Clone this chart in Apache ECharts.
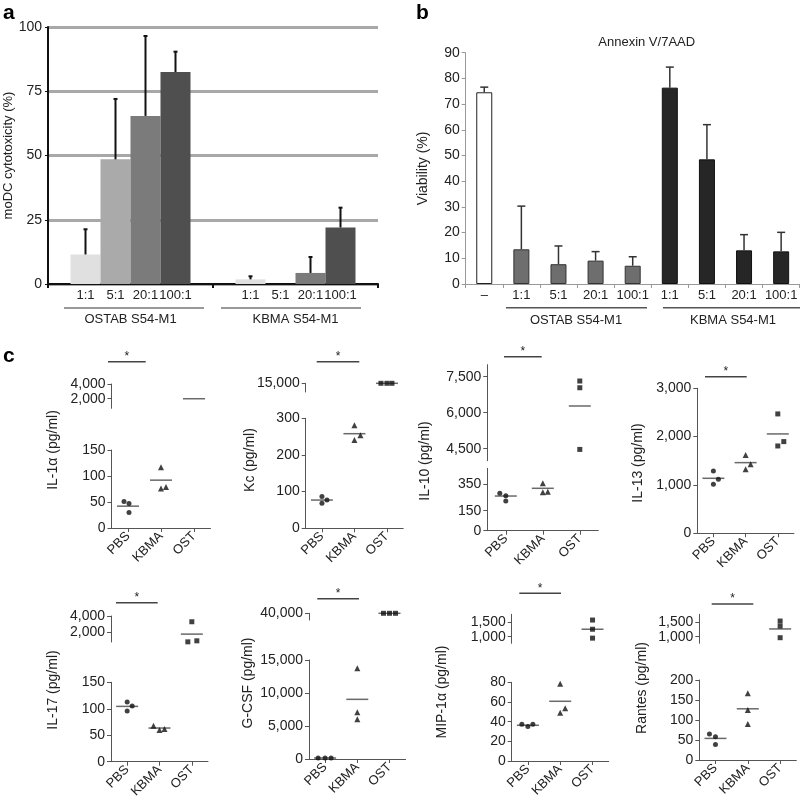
<!DOCTYPE html>
<html>
<head>
<meta charset="utf-8">
<script src="https://cdn.jsdelivr.net/npm/echarts@6/dist/echarts.min.js"></script>
<style>
  html, body { margin: 0; background: #fff; }
  #chart { width: 805px; height: 805px; }
</style>
</head>
<body>
<div id="chart"></div>
<script>
// ---------- panel a: moDC cytotoxicity ----------
const ratios = ['1:1', '5:1', '20:1', '100:1']
const groupsA = ['OSTAB S54-M1', 'KBMA S54-M1']
const cytoOstab = [11.5, 48.5, 65.4, 82.5]
const cytoOstabTop = [21.3, 72, 96.5, 90.4]
const cytoKbma = [1.8, 0, 4.3, 22]
const cytoKbmaTop = [3, null, 10.5, 29.7]

// ---------- panel b: viability ----------
const viaLabels = ['–', '1:1', '5:1', '20:1', '100:1', '1:1', '5:1', '20:1', '100:1']
const viability = [74.6, 13.5, 7.7, 9.1, 7.1, 76.4, 48.5, 13.1, 12.7]
const viabilityTop = [76.6, 30.3, 14.8, 12.6, 10.6, 84.4, 62, 19.2, 20.1]

// ---------- panel c: cytokines ----------
const groupsC = ['PBS', 'KBMA', 'OST']

const il1aPbs = [51, 47, 30]
const il1aKbma = [117, 76, 79]
const il1aOst = []
const il1aMean = [42, 92, 2000]
const il1aTicksLow = [0, 50, 100, 150]
const il1aTicksHigh = [2000, 4000]

const kcPbs = [87, 77, 68]
const kcKbma = [281, 241, 254]
const kcOst = [15000, 15000, 15000]
const kcMean = [77, 258, 15000]
const kcTicksLow = [0, 100, 200, 300]
const kcTicksHigh = [15000]

const il10Pbs = [280, 262, 222]
const il10Kbma = [355, 288, 292]
const il10Ost = [7320, 7040, 4470]
const il10Mean = [260, 318, 6280]
const il10TicksLow = [0, 150, 350]
const il10TicksHigh = [4500, 6000, 7500]

const il13Pbs = [1290, 1118, 1014]
const il13Kbma = [1621, 1325, 1428]
const il13Ost = [2470, 1807, 1897]
const il13Mean = [1138, 1462, 2056]
const il13Ticks = [0, 1000, 2000, 3000]

const il17Pbs = [113, 105, 96]
const il17Kbma = [68, 60, 62]
const il17Ost = [3270, 720, 850]
const il17Mean = [104.5, 63.6, 1700]
const il17TicksLow = [0, 50, 100, 150]
const il17TicksHigh = [2000, 4000]

const gcsfPbs = [150, 150, 150]
const gcsfKbma = [13740, 7070, 6010]
const gcsfOst = [40000, 40000, 40000]
const gcsfMean = [150, 9040, 40000]
const gcsfTicksLow = [0, 5000, 10000, 15000]
const gcsfTicksHigh = [40000]

const mipPbs = [37.3, 35, 37.3]
const mipKbma = [78.6, 49, 53.6]
const mipOst = [1580, 1260, 950]
const mipMean = [36.3, 60.7, 1260]
const mipTicksLow = [0, 20, 40, 60, 80]
const mipTicksHigh = [1000, 1500]

const rantesPbs = [65, 58, 39]
const rantesKbma = [167, 125, 90]
const rantesOst = [1545, 1370, 965]
const rantesMean = [54, 128, 1270]
const rantesTicksLow = [0, 50, 100, 150, 200]
const rantesTicksHigh = [1000, 1500]

// ---------- layout ----------
const FONT = '"Liberation Sans", Arial, Helvetica, sans-serif'
const TXT = '#222'
const AX = '#555'
const fmt = v => v.toLocaleString('en-US')

const cPlots = [
  { name: 'IL-1α (pg/ml)', vals: [il1aPbs, il1aKbma, il1aOst], mean: il1aMean,
    jit: [[-4, 1, 1], [0, 0, 5], []], left: 111.5, width: 99, nameX: 53, nameY: 450, star: [361.7, 108, 145.7],
    lower: { top: 450, bottom: 528, min: 0, max: 150, ticks: il1aTicksLow },
    upper: { top: 384, bottom: 408.3, min: 700, max: 4000, ticks: il1aTicksHigh } },
  { name: 'Kc (pg/ml)', vals: [kcPbs, kcKbma, kcOst], mean: kcMean,
    jit: [[0, 5, 0], [0, 0, 6], [-6, 0, 5]], left: 305.7, width: 97.5, nameX: 250, nameY: 460, star: [361.7, 316.7, 359.3],
    lower: { top: 418.3, bottom: 528.3, min: 0, max: 300, ticks: kcTicksLow },
    upper: { top: 383.3, bottom: 392, min: 14000, max: 15000, ticks: kcTicksHigh } },
  { name: 'IL-10 (pg/ml)', vals: [il10Pbs, il10Kbma, il10Ost], mean: il10Mean,
    jit: [[-6, 0, 0], [0, 0, 5], [0, 0, 0]], left: 487.3, width: 111, nameX: 425, nameY: 461, star: [356.7, 504, 541.7],
    lower: { top: 468.3, bottom: 530.7, min: 0, max: 468, ticks: il10TicksLow },
    upper: { top: 364.7, bottom: 460.7, min: 4000, max: 8000, ticks: il10TicksHigh } },
  { name: 'IL-13 (pg/ml)', vals: [il13Pbs, il13Kbma, il13Ost], mean: il13Mean,
    jit: [[0, 5, 0], [0, 0, 5], [0, 0, 6]], left: 697.3, width: 96.6, nameX: 638.3, nameY: 463, star: [376.7, 705, 746.7],
    lower: { top: 388.3, bottom: 533.3, min: 0, max: 3000, ticks: il13Ticks },
    upper: null },
  { name: 'IL-17 (pg/ml)', vals: [il17Pbs, il17Kbma, il17Ost], mean: il17Mean,
    jit: [[0, 5, 0], [-6, 0, 5], [0, -4, 5]], left: 111, width: 97, nameX: 53.3, nameY: 690, star: [602.7, 116, 157.7],
    lower: { top: 682.3, bottom: 761.7, min: 0, max: 150, ticks: il17TicksLow },
    upper: { top: 616, bottom: 642, min: 700, max: 4000, ticks: il17TicksHigh } },
  { name: 'G-CSF (pg/ml)', vals: [gcsfPbs, gcsfKbma, gcsfOst], mean: gcsfMean,
    jit: [[-7, 0, 6], [0, 0, 0], [-6, 0, 6]], left: 309, width: 96.6, nameX: 248.3, nameY: 683, star: [598.7, 317.3, 359],
    lower: { top: 660, bottom: 759, min: 0, max: 15000, ticks: gcsfTicksLow },
    upper: { top: 613.3, bottom: 620, min: 38000, max: 40000, ticks: gcsfTicksHigh } },
  { name: 'MIP-1α (pg/ml)', vals: [mipPbs, mipKbma, mipOst], mean: mipMean,
    jit: [[-6, 0, 5], [0, 0, 5], [0, 0, 0]], left: 511.7, width: 97, nameX: 441.7, nameY: 692, star: [593.3, 519.3, 561],
    lower: { top: 682.3, bottom: 761, min: 0, max: 80, ticks: mipTicksLow },
    upper: { top: 614.3, bottom: 643.3, min: 770, max: 1780, ticks: mipTicksHigh } },
  { name: 'Rantes (pg/ml)', vals: [rantesPbs, rantesKbma, rantesOst], mean: rantesMean,
    jit: [[-6, 0, 0], [0, 0, 0], [0, 0, 0]], left: 699.3, width: 97, nameX: 641.7, nameY: 688, star: [604, 711.7, 753.3],
    lower: { top: 680, bottom: 760, min: 0, max: 200, ticks: rantesTicksLow },
    upper: { top: 614.3, bottom: 643.3, min: 770, max: 1780, ticks: rantesTicksHigh } },
]

const grids = []
const xAxes = []
const yAxes = []
const series = []
const graphics = []

function errorBar (dx, cap, color, w) {
  return function (params, api) {
    const top = api.value(2)
    if (top == null || isNaN(top)) return null
    const p0 = api.coord([api.value(0), api.value(1)])
    const p1 = api.coord([api.value(0), top])
    const x = p0[0] + dx
    const st = { stroke: color, lineWidth: w }
    return {
      type: 'group',
      children: [
        { type: 'line', shape: { x1: x, y1: p0[1], x2: x, y2: p1[1] }, style: st },
        { type: 'line', shape: { x1: x - cap / 2, y1: p1[1], x2: x + cap / 2, y2: p1[1] }, style: st },
      ],
    }
  }
}

// ---------- panel a ----------
const barWA = 30
const greysA = ['#e0e0e0', '#aaaaaa', '#7b7b7b', '#4f4f4f']
grids.push({ left: 48, top: 27, width: 330, height: 257 })
xAxes.push({
  type: 'category', gridIndex: 0, data: groupsA,
  axisLine: { lineStyle: { color: '#111', width: 2 } },
  axisTick: { show: true, length: 4, lineStyle: { color: '#111', width: 2 } },
  axisLabel: { margin: 29, fontSize: 13, color: TXT, fontFamily: FONT },
})
yAxes.push({
  type: 'value', gridIndex: 0, min: 0, max: 100, interval: 25,
  name: 'moDC cytotoxicity (%)', nameLocation: 'middle', nameGap: 31,
  nameTextStyle: { fontSize: 13, color: TXT, fontFamily: FONT },
  axisLine: { show: true, lineStyle: { color: '#111', width: 2 } },
  axisTick: { show: true, length: 3, lineStyle: { color: '#111' } },
  axisLabel: { fontSize: 14, color: TXT, fontFamily: FONT, margin: 6 },
  splitLine: { show: true, lineStyle: { color: '#a8a8a8', width: 3 } },
})
ratios.forEach((r, i) => {
  series.push({
    type: 'bar', name: r, xAxisIndex: 0, yAxisIndex: 0,
    data: [cytoOstab[i], cytoKbma[i]],
    barWidth: barWA, barGap: '0%',
    itemStyle: { color: greysA[i] },
    label: { show: true, position: 'bottom', distance: 5, formatter: r, fontSize: 13, color: TXT, fontFamily: FONT },
  })
  series.push({
    type: 'custom', xAxisIndex: 0, yAxisIndex: 0, z: 3,
    data: [[0, cytoOstab[i], cytoOstabTop[i]], [1, cytoKbma[i], cytoKbmaTop[i]]],
    encode: { x: 0, y: [1, 2] },
    renderItem: errorBar((i - 1.5) * barWA, 4, '#111', 2),
  })
})
graphics.push(
  { type: 'line', shape: { x1: 64, y1: 308, x2: 204, y2: 308 }, style: { stroke: '#333', lineWidth: 1 } },
  { type: 'line', shape: { x1: 221, y1: 308, x2: 361, y2: 308 }, style: { stroke: '#333', lineWidth: 1 } },
)

// ---------- panel b ----------
grids.push({ left: 465.7, top: 52.7, width: 334, height: 231.3 })
xAxes.push({
  type: 'category', gridIndex: 1, data: viaLabels,
  axisLine: { lineStyle: { color: '#999', width: 1 } },
  axisTick: { show: true, length: 4, lineStyle: { color: '#999' } },
  axisLabel: { margin: 5, fontSize: 13, color: TXT, fontFamily: FONT, interval: 0 },
})
yAxes.push({
  type: 'value', gridIndex: 1, min: 0, max: 90, interval: 10,
  name: 'Viability (%)', nameLocation: 'middle', nameGap: 36,
  nameTextStyle: { fontSize: 14, color: TXT, fontFamily: FONT },
  axisLine: { show: true, lineStyle: { color: '#999' } },
  axisTick: { show: true, length: 4, lineStyle: { color: '#999' } },
  axisLabel: { fontSize: 14, color: TXT, fontFamily: FONT, margin: 6 },
  splitLine: { show: false },
})
const barStyleB = i => i === 0
  ? { color: '#fff', borderColor: '#222', borderWidth: 1 }
  : i < 5 ? { color: '#6e6e6e', borderColor: '#333', borderWidth: 1 }
          : { color: '#262626', borderColor: '#111', borderWidth: 1 }
series.push({
  type: 'bar', xAxisIndex: 1, yAxisIndex: 1, barWidth: 16,
  data: viability.map((v, i) => ({ value: v, itemStyle: barStyleB(i) })),
})
series.push({
  type: 'custom', xAxisIndex: 1, yAxisIndex: 1, z: 3,
  data: viability.map((v, i) => [i, v, viabilityTop[i]]),
  encode: { x: 0, y: [1, 2] },
  renderItem: errorBar(0, 8, '#333', 1.5),
})
graphics.push(
  { type: 'text', x: 646.7, y: 42, style: { text: 'Annexin V/7AAD', font: '13px ' + FONT, fill: TXT, textAlign: 'center', textVerticalAlign: 'middle' } },
  { type: 'line', shape: { x1: 506, y1: 307.7, x2: 647, y2: 307.7 }, style: { stroke: '#555', lineWidth: 1.5 } },
  { type: 'line', shape: { x1: 663, y1: 307.7, x2: 800, y2: 307.7 }, style: { stroke: '#555', lineWidth: 1.5 } },
  { type: 'text', x: 576, y: 320, style: { text: 'OSTAB S54-M1', font: '13px ' + FONT, fill: TXT, textAlign: 'center', textVerticalAlign: 'middle' } },
  { type: 'text', x: 733, y: 320, style: { text: 'KBMA S54-M1', font: '13px ' + FONT, fill: TXT, textAlign: 'center', textVerticalAlign: 'middle' } },
)

// ---------- panel c ----------
const shapes = ['circle', 'triangle', 'rect']
const sizes = [5, 6, 5]
const axisStyleC = {
  axisLine: { show: true, lineStyle: { color: AX, width: 1 } },
  splitLine: { show: false },
}

cPlots.forEach(p => {
  const gl = grids.length
  grids.push({ left: p.left, width: p.width, top: p.lower.top, height: p.lower.bottom - p.lower.top })
  xAxes.push({
    type: 'category', gridIndex: gl, data: groupsC, ...axisStyleC,
    axisTick: { show: true, alignWithLabel: true, length: 4, lineStyle: { color: AX } },
    axisLabel: { rotate: 45, margin: 6, fontSize: 13, color: TXT, fontFamily: FONT, interval: 0 },
  })
  yAxes.push({
    type: 'value', gridIndex: gl, min: p.lower.min, max: p.lower.max, ...axisStyleC,
    axisTick: { show: true, length: 4, lineStyle: { color: AX }, customValues: p.lower.ticks },
    axisLabel: { fontSize: 14, color: TXT, fontFamily: FONT, margin: 6, customValues: p.lower.ticks, formatter: fmt },
  })
  let gu = null
  if (p.upper) {
    gu = grids.length
    grids.push({ left: p.left, width: p.width, top: p.upper.top, height: p.upper.bottom - p.upper.top })
    xAxes.push({ type: 'category', gridIndex: gu, data: groupsC, show: false })
    yAxes.push({
      type: 'value', gridIndex: gu, min: p.upper.min, max: p.upper.max, ...axisStyleC,
      axisTick: { show: true, length: 4, lineStyle: { color: AX }, customValues: p.upper.ticks },
      axisLabel: { fontSize: 14, color: TXT, fontFamily: FONT, margin: 6, customValues: p.upper.ticks, formatter: fmt },
    })
  }
  const pick = v => (gu !== null && v > p.lower.max) ? gu : gl
  const pts = {}
  const means = {}
  pts[gl] = []; means[gl] = []
  if (gu !== null) { pts[gu] = []; means[gu] = [] }
  p.vals.forEach((vals, g) => {
    vals.forEach((v, j) => {
      pts[pick(v)].push({
        value: [g, v], symbol: shapes[g], symbolSize: sizes[g],
        symbolOffset: [p.jit[g][j] || 0, 0],
      })
    })
  })
  p.mean.forEach((m, g) => {
    means[pick(m)].push({ value: [g, m] })
  })
  Object.keys(pts).forEach(k => {
    const idx = +k
    series.push({
      type: 'scatter', xAxisIndex: idx, yAxisIndex: idx, clip: false, z: 2,
      symbol: 'rect', symbolSize: [22, 1.5], itemStyle: { color: '#444' },
      data: means[idx], silent: true,
    })
    series.push({
      type: 'scatter', xAxisIndex: idx, yAxisIndex: idx, clip: false, z: 3,
      itemStyle: { color: '#111' }, data: pts[idx], silent: true,
    })
  })
  graphics.push(
    { type: 'text', x: p.nameX, y: p.nameY, rotation: Math.PI / 2,
      style: { text: p.name, font: '14px ' + FONT, fill: TXT, textAlign: 'center', textVerticalAlign: 'middle' } },
    { type: 'line', shape: { x1: p.star[1], y1: p.star[0], x2: p.star[2], y2: p.star[0] }, style: { stroke: '#444', lineWidth: 1.5 } },
    { type: 'text', x: (p.star[1] + p.star[2]) / 2, y: p.star[0] - 5,
      style: { text: '*', font: '12px ' + FONT, fill: TXT, textAlign: 'center', textVerticalAlign: 'middle' } },
  )
})

// panel letters
graphics.push(
  { type: 'text', x: 3, y: 13, style: { text: 'a', font: 'bold 21px ' + FONT, fill: '#000', textVerticalAlign: 'middle' } },
  { type: 'text', x: 416, y: 13, style: { text: 'b', font: 'bold 21px ' + FONT, fill: '#000', textVerticalAlign: 'middle' } },
  { type: 'text', x: 3, y: 356, style: { text: 'c', font: 'bold 21px ' + FONT, fill: '#000', textVerticalAlign: 'middle' } },
)

const chart = echarts.init(document.getElementById('chart'), null, { renderer: 'canvas' })
chart.setOption({
  animation: false,
  backgroundColor: '#fff',
  textStyle: { fontFamily: FONT },
  grid: grids,
  xAxis: xAxes,
  yAxis: yAxes,
  series: series,
  graphic: graphics,
})
</script>
</body>
</html>
